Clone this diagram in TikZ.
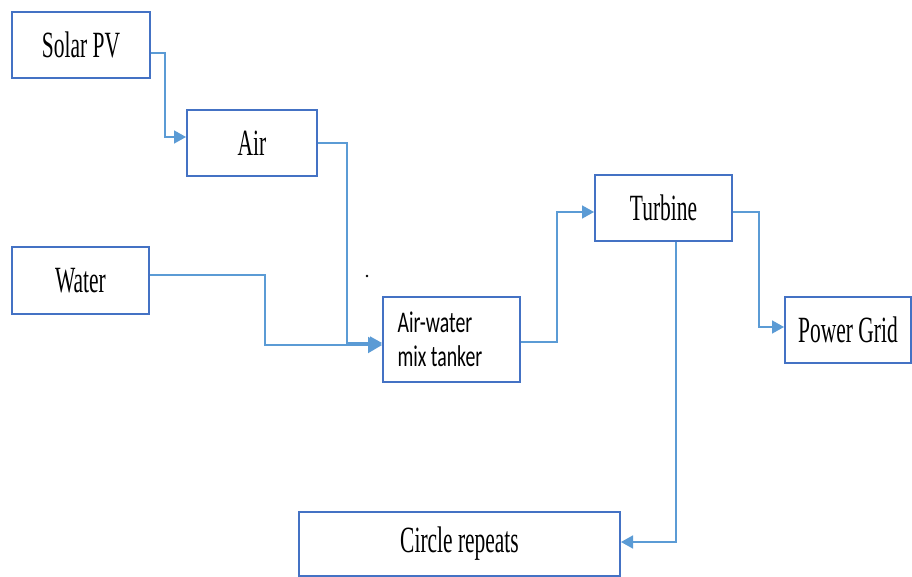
\documentclass[tikz,border=0pt]{standalone}
\usepackage{fontspec}
\setmainfont{Liberation Serif}
\newfontfamily\boxserif[FakeStretch=0.58]{Liberation Serif}
\newfontfamily\boxsans[FakeStretch=0.66]{Carlito}
\usetikzlibrary{arrows.meta}
\definecolor{boxblue}{HTML}{4472C4}
\definecolor{linkblue}{HTML}{5B9BD5}
\tikzset{
  stage/.style={draw=boxblue, line width=2pt, fill=white, rectangle, inner sep=0pt,
    font=\boxserif\fontsize{37}{40}\selectfont},
  conn/.style={draw=linkblue, line width=1.6pt,
    -{Triangle[length=12pt,width=13pt]}},
  bigconn/.style={conn, line width=2pt, -{Triangle[length=14pt,width=16pt]}}
}
\begin{document}
\begin{tikzpicture}[x=1pt,y=-1pt]
  \useasboundingbox[fill=white] (0,0) rectangle (912,577);

  % process stages
  \node[stage, minimum width=138pt, minimum height=66pt] (solar) at (81,45) {Solar PV};
  \node[stage, minimum width=130pt, minimum height=66pt] (air) at (252,143) {Air};
  \node[stage, minimum width=137pt, minimum height=67pt] (water) at (80.5,280.5) {Water};
  \node[stage, minimum width=137pt, minimum height=85pt] (tank) at (451.5,339.5) {};
  \node[anchor=west, align=left, font=\boxsans\fontsize{30}{34}\selectfont]
    (tanktext) at ([xshift=12pt]tank.west) {Air-water\\mix tanker};
  \node[stage, minimum width=137pt, minimum height=66pt] (turbine) at (663.5,208) {Turbine};
  \node[stage, minimum width=126pt, minimum height=66pt] (grid) at (848,330) {Power Grid};
  \node[stage, minimum width=321pt, minimum height=64pt] (circle) at (459.5,544) {Circle repeats};

  % flow connectors
  \draw[conn] ([yshift=-8pt]solar.east) -| ([xshift=-21pt,yshift=6pt]air.west) -- ([yshift=6pt]air.west);
  \draw[conn] (air.east) -| ([xshift=-35pt,yshift=-3.5pt]tank.west) -- ([yshift=-3.5pt]tank.west);
  \draw[bigconn] ([yshift=5.5pt]water.east) -| ([xshift=-117pt,yshift=-5.5pt]tank.west) -- ([yshift=-5.5pt]tank.west);
  \draw[conn] ([yshift=-2.5pt]tank.east) -| ([xshift=-37pt,yshift=-4pt]turbine.west) -- ([yshift=-4pt]turbine.west);
  \draw[conn] ([yshift=-4pt]turbine.east) -| ([xshift=-25pt,yshift=3pt]grid.west) -- ([yshift=3pt]grid.west);
  \draw[conn] ([xshift=12.5pt]turbine.south) |- ([yshift=2pt]circle.east);

  % small stray mark
  \fill[black] (367,276) circle (1.3pt);
\end{tikzpicture}
\end{document}
